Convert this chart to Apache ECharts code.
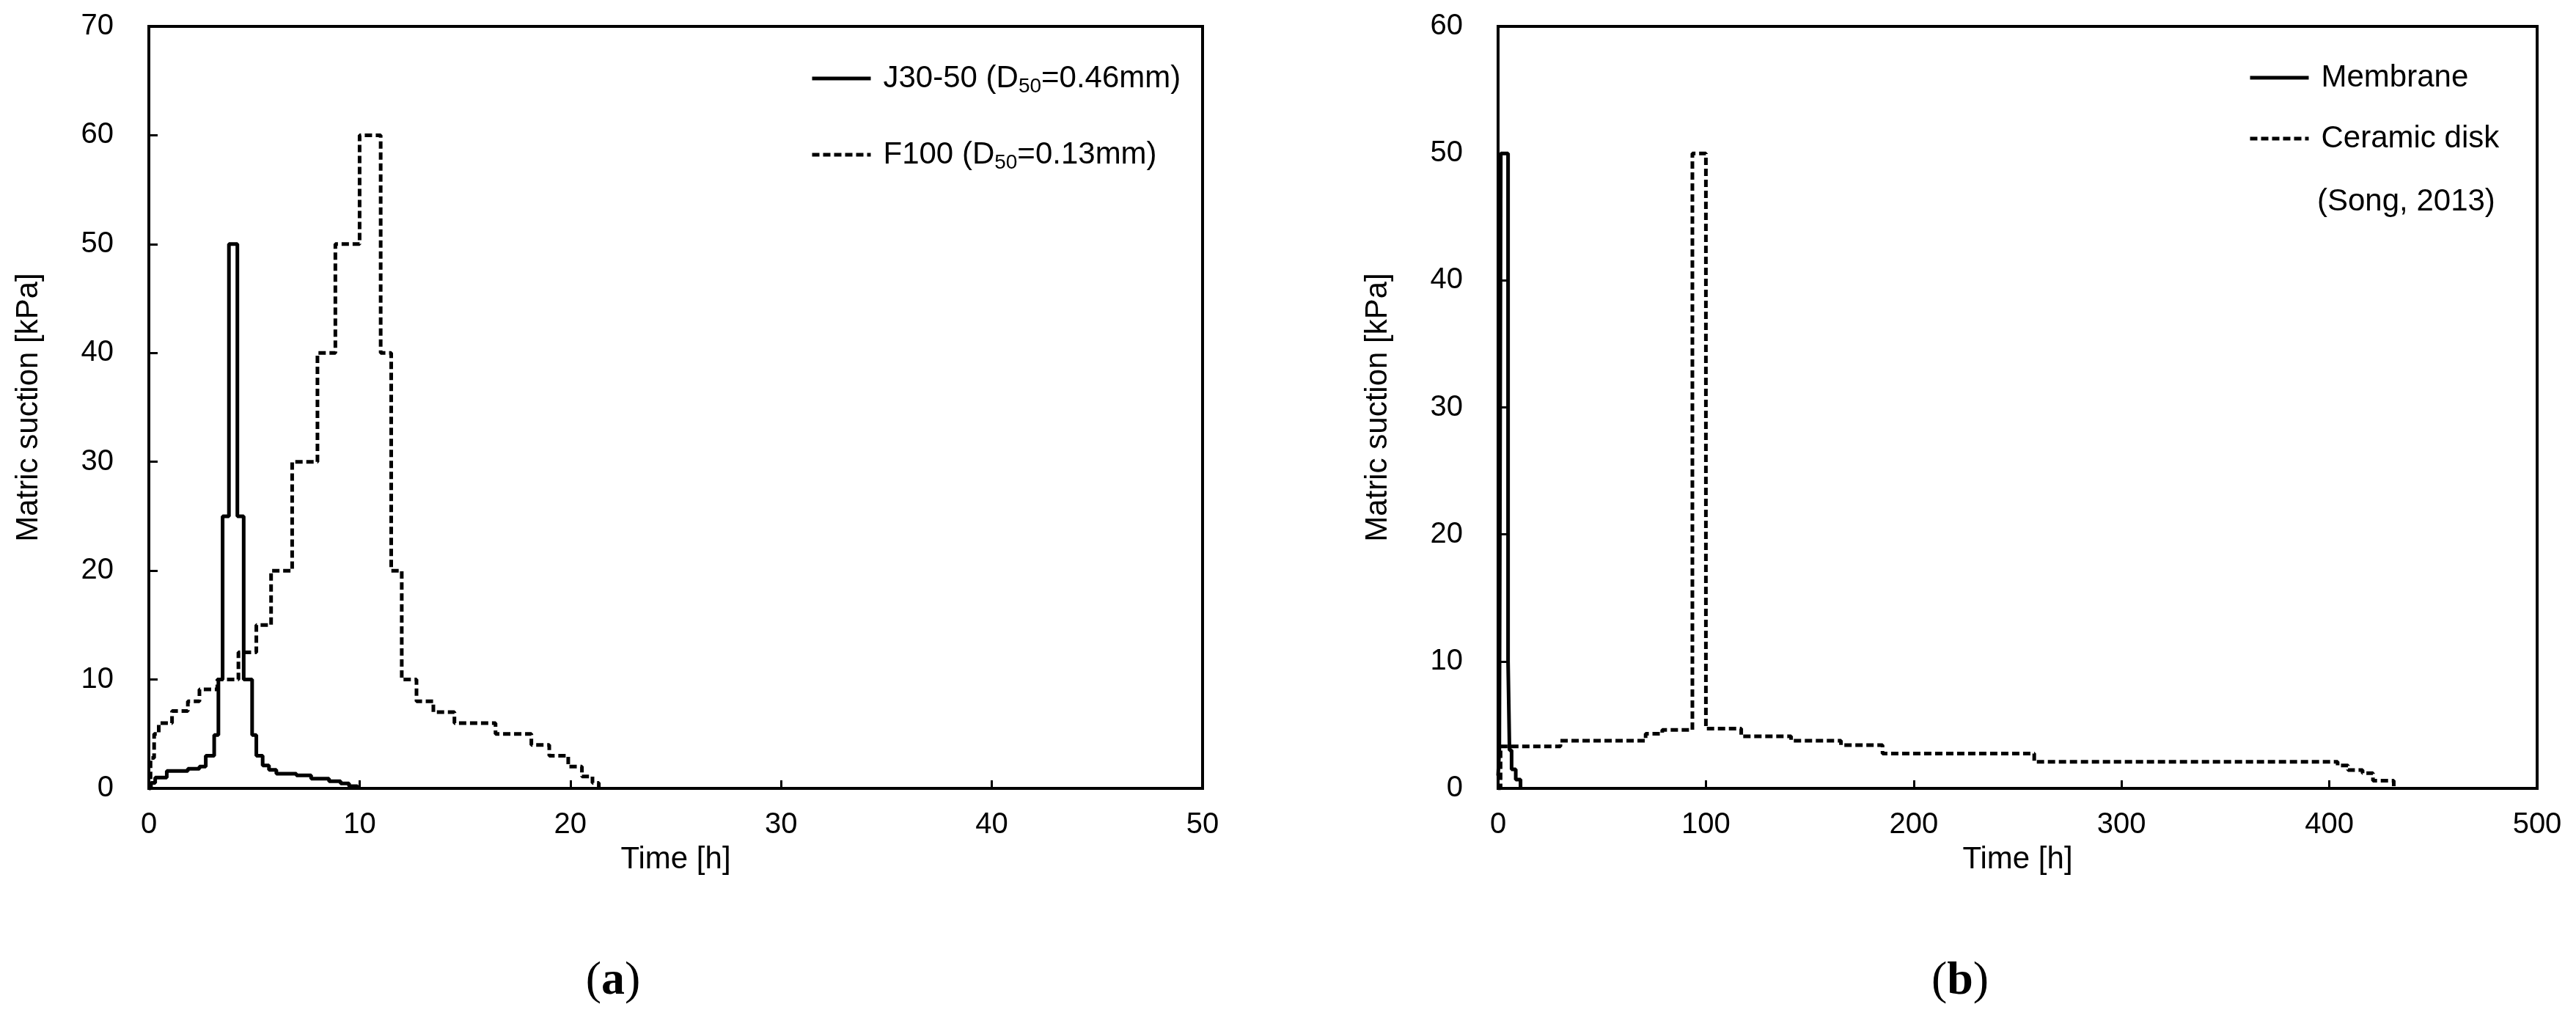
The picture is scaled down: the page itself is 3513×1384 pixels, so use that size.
<!DOCTYPE html>
<html>
<head>
<meta charset="utf-8">
<script src="https://cdn.jsdelivr.net/npm/echarts@6/dist/echarts.min.js"></script>
<style>
html,body{margin:0;padding:0;background:#fff;}
#chart{width:3513px;height:1384px;}
</style>
</head>
<body>
<div id="chart"></div>
<script>
// ---- Panel (a) data: step curves (time [h] at which a value starts, value [kPa]) ----
var j30Time  = [0, 0.1, 0.3, 0.85, 1.85, 2.4, 2.7, 3.1, 3.3, 3.5, 3.8, 4.2, 4.5, 4.9, 5.1, 5.4, 5.7, 6.05, 7.0, 7.7, 8.55, 9.1, 9.5, 9.9];
var j30Value = [0, 0.5, 1.0, 1.6, 1.8, 2.0, 3.0, 4.9, 10, 25, 50, 25, 10, 4.9, 3.0, 2.1, 1.7, 1.35, 1.2, 0.9, 0.65, 0.45, 0.2, 0];
var f100Time  = [0, 0.08, 0.25, 0.47, 1.1, 1.85, 2.4, 3.25, 4.25, 5.1, 5.8, 6.8, 8.0, 8.85, 10.0, 11.0, 11.5, 12.0, 12.7, 13.5, 14.5, 16.45, 18.15, 19.0, 19.9, 20.55, 21.05, 21.35];
var f100Value = [0, 2.8, 5.0, 6.0, 7.1, 8.0, 9.1, 10, 12.5, 15, 20, 30, 40, 50, 60, 40, 20, 10, 8, 7, 6, 5, 4, 3, 2, 1.1, 0.5, 0];

// ---- Panel (b) data ----
var memTime  = [0, 0.6, 1.3, 4.8, 5.5, 6.5, 8.5, 10.8];
var memValue = [1, 3, 50, 10, 3, 1.5, 0.7, 0];
var cerTime  = [0, 1.2, 30, 71, 79, 93.5, 100, 117, 141, 165, 185, 258, 404, 409, 416, 421, 431];
var cerValue = [0, 3.3, 3.75, 4.3, 4.6, 50, 4.7, 4.1, 3.75, 3.4, 2.75, 2.1, 1.8, 1.45, 1.2, 0.6, 0];

// ---- Axis settings ----
var axA = {xMax: 50, xStep: 10, yMax: 70, yStep: 10};
var axB = {xMax: 500, xStep: 100, yMax: 60, yStep: 10};
var xTitle = 'Time [h]';
var yTitle = 'Matric suction [kPa]';
var legendNames = ['J30-50', 'F100', 'Membrane', 'Ceramic disk'];
var legendRich = {
  'J30-50': '{n|J30-50 (D}{s|50}{n|=0.46mm)}',
  'F100': '{n|F100 (D}{s|50}{n|=0.13mm)}',
  'Membrane': '{n|Membrane}',
  'Ceramic disk': '{n|Ceramic disk}'
};
var noteB = '(Song, 2013)';
var panelA = 'a', panelB = 'b';

var FONT = '"Liberation Sans", Arial, sans-serif';
var SERIF = '"Liberation Serif", "Times New Roman", serif';
var DASH = [10, 5];

function pairs(t, v) { return t.map(function (x, i) { return [x, v[i]]; }); }

function xAx(idx, ax) {
  return {
    type: 'value', gridIndex: idx, min: 0, max: ax.xMax, interval: ax.xStep,
    name: xTitle, nameLocation: 'middle', nameGap: 76,
    nameTextStyle: {fontFamily: FONT, fontSize: 42, color: '#000'},
    axisLine: {show: true, onZero: false, lineStyle: {color: '#000', width: 4}},
    axisTick: {show: true, inside: true, length: 11, lineStyle: {color: '#000', width: 3}},
    axisLabel: {fontFamily: FONT, fontSize: 40, color: '#000', margin: 30},
    splitLine: {show: false}
  };
}
function yAx(idx, ax) {
  return {
    type: 'value', gridIndex: idx, min: 0, max: ax.yMax, interval: ax.yStep,
    name: yTitle, nameLocation: 'middle', nameGap: 143,
    nameTextStyle: {fontFamily: FONT, fontSize: 42, color: '#000'},
    axisLine: {show: true, onZero: false, lineStyle: {color: '#000', width: 4}},
    axisTick: {show: true, inside: true, length: 12, lineStyle: {color: '#000', width: 3}},
    axisLabel: {fontFamily: FONT, fontSize: 40, color: '#000', margin: 48},
    splitLine: {show: false}
  };
}
function lineSeries(name, idx, data, dashed) {
  return {
    name: name, type: 'line', xAxisIndex: idx, yAxisIndex: idx, step: 'end',
    symbol: 'none', showSymbol: false, animation: false,
    lineStyle: {color: '#000', width: 5, type: dashed ? DASH : 'solid'},
    itemStyle: {color: '#000'},
    data: data
  };
}
var richStyle = {
  n: {fontFamily: FONT, fontSize: 42, color: '#000', lineHeight: 50},
  s: {fontFamily: FONT, fontSize: 28, color: '#000', lineHeight: 30, verticalAlign: 'bottom'}
};
function legendAt(name, left, top, dashed) {
  return {
    data: [name], orient: 'vertical', left: left, top: top,
    itemWidth: 80, itemHeight: 20, itemGap: 0,
    itemStyle: {opacity: 0},
    lineStyle: {color: '#000', width: 5, type: dashed ? DASH : 'solid', opacity: 1},
    formatter: function (n) { return legendRich[n]; },
    textStyle: {rich: richStyle, padding: [0, 0, 0, 12]},
    selectedMode: false
  };
}
function panelLabel(letter, cx) {
  return {type: 'text', x: cx, y: 1338, style: {
    text: '{p|(}{b|' + letter + '}{p|)}', align: 'center', verticalAlign: 'middle',
    rich: {
      p: {fontFamily: SERIF, fontSize: 64, fill: '#000'},
      b: {fontFamily: SERIF, fontSize: 64, fontWeight: 'bold', fill: '#000'}
    }}};
}

var chart = echarts.init(document.getElementById('chart'), null, {renderer: 'canvas'});
chart.setOption({
  backgroundColor: '#fff',
  animation: false,
  grid: [
    {left: 203, top: 36, width: 1437, height: 1039, show: true, borderColor: '#000', borderWidth: 4, backgroundColor: 'transparent'},
    {left: 2043, top: 36, width: 1417, height: 1039, show: true, borderColor: '#000', borderWidth: 4, backgroundColor: 'transparent'}
  ],
  xAxis: [xAx(0, axA), xAx(1, axB)],
  yAxis: [yAx(0, axA), yAx(1, axB)],
  legend: [
    legendAt(legendNames[0], 1100, 81, false),
    legendAt(legendNames[1], 1100, 185, true),
    legendAt(legendNames[2], 3061, 80, false),
    legendAt(legendNames[3], 3061, 163, true)
  ],
  graphic: [
    {type: 'text', left: 3160, top: 254, style: {text: noteB, font: '42px ' + FONT, fill: '#000'}},
    panelLabel(panelA, 836),
    panelLabel(panelB, 2673)
  ],
  series: [
    lineSeries(legendNames[0], 0, pairs(j30Time, j30Value), false),
    lineSeries(legendNames[1], 0, pairs(f100Time, f100Value), true),
    lineSeries(legendNames[2], 1, pairs(memTime, memValue), false),
    lineSeries(legendNames[3], 1, pairs(cerTime, cerValue), true)
  ]
});
</script>
</body>
</html>
